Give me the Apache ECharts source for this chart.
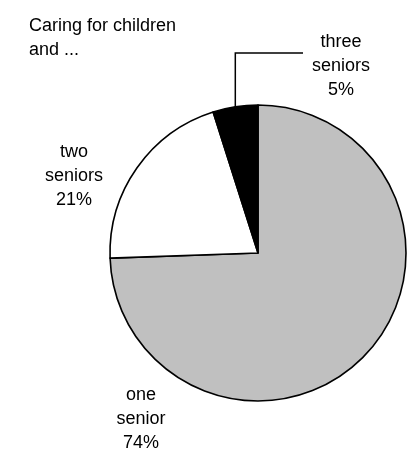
<!DOCTYPE html>
<html>
<head>
<meta charset="utf-8">
<script src="https://cdn.jsdelivr.net/npm/echarts@6/dist/echarts.min.js"></script>
<style>
html,body{margin:0;padding:0;background:#fff;}
#chart{width:412px;height:449px;}
</style>
</head>
<body>
<div id="chart"></div>
<script>
// ---- data ----
const categories = ['one senior', 'two seniors', 'three seniors'];
const values = [74.45, 20.65, 4.9];
const colors = ['#c0c0c0', '#ffffff', '#000000'];
const titleText = 'Caring for children\nand ...';

// ---- layout ----
const cx = 258, cy = 253, R = 148;
const labelPos = [[141, 419], [74, 176], [341, 66]];
const FONT = '"Liberation Sans", Arial, sans-serif';

const total = values.reduce((a, b) => a + b, 0);
// leader line for the third slice (computed from data angles)
let before = 0;
for (let i = 0; i < 2; i++) before += values[i];
const midFrac = (before + values[2] / 2) / total;
const ang = midFrac * 2 * Math.PI;
const px = cx + R * Math.sin(ang);
const py = cy - R * Math.cos(ang);
const ly = labelPos[2][1] - 13;
const lx = labelPos[2][0] - 38;

const chart = echarts.init(document.getElementById('chart'), null, {renderer: 'canvas'});
chart.setOption({
  animation: false,
  backgroundColor: '#ffffff',
  textStyle: {fontFamily: FONT},
  title: {
    text: titleText,
    left: 24,
    top: 9,
    textStyle: {fontFamily: FONT, fontSize: 18, fontWeight: 'normal', color: '#000', lineHeight: 24}
  },
  graphic: [{
    type: 'polyline',
    z: 100,
    shape: {points: [[px, py], [px, ly], [lx, ly]]},
    style: {stroke: '#000', lineWidth: 1.5, fill: null}
  }],
  series: [{
    type: 'pie',
    center: [cx, cy],
    radius: R,
    startAngle: 90,
    clockwise: true,
    avoidLabelOverlap: false,
    itemStyle: {borderColor: '#000', borderWidth: 1.6},
    emphasis: {disabled: true},
    label: {
      show: true,
      position: 'outside',
      fontFamily: FONT,
      fontSize: 18,
      lineHeight: 24,
      color: '#000',
      align: 'center',
      formatter: function (p) {
        return p.name.replace(' ', '\n') + '\n' + Math.round(p.value / total * 100) + '%';
      }
    },
    labelLine: {show: false},
    labelLayout: function (p) {
      const pos = labelPos[p.dataIndex];
      return {x: pos[0], y: pos[1], align: 'center', verticalAlign: 'middle'};
    },
    data: categories.map((c, i) => ({name: c, value: values[i], itemStyle: {color: colors[i]}}))
  }]
});
</script>
</body>
</html>
